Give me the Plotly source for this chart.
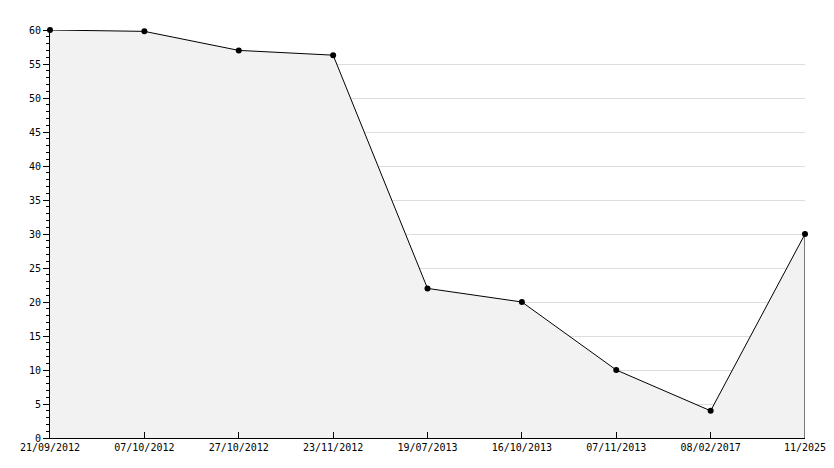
import plotly.graph_objects as go

dates = ["21/09/2012", "07/10/2012", "27/10/2012", "23/11/2012", "19/07/2013",
         "16/10/2013", "07/11/2013", "08/02/2017", "11/2025"]
values = [60, 59.8, 57, 56.3, 22, 20, 10, 4, 30]

fig = go.Figure()

fig.add_trace(go.Scatter(
    x=dates, y=values,
    mode="lines+markers",
    fill="tozeroy",
    fillcolor="#f2f2f2",
    line=dict(color="black", width=1),
    marker=dict(symbol="circle", size=6, color="black"),
    cliponaxis=False,
    showlegend=False,
    hoverinfo="x+y",
))

# closing edge of the filled area at the last point
fig.add_trace(go.Scatter(
    x=[dates[-1], dates[-1]], y=[0, values[-1]],
    mode="lines",
    line=dict(color="black", width=1),
    cliponaxis=False,
    showlegend=False,
    hoverinfo="skip",
))

# the page body has an 8px margin, so the plot box is shifted by that much
fig.update_layout(
    width=834, height=468,
    margin=dict(l=42, r=37, t=22, b=38, autoexpand=False),
    paper_bgcolor="white",
    plot_bgcolor="white",
    font=dict(family="DejaVu Sans Mono", size=10, color="black"),
    xaxis=dict(
        type="category",
        range=[0, len(dates) - 1],
        showgrid=False,
        showline=True, linecolor="black", linewidth=1,
        ticks="inside", ticklen=6, tickcolor="black",
        zeroline=False,
        automargin=False,
    ),
    yaxis=dict(
        range=[0, 60],
        dtick=5,
        showgrid=True, gridcolor="#dddddd", gridwidth=1,
        showline=True, linecolor="black", linewidth=1,
        ticks="outside", ticklen=6, tickcolor="black",
        minor=dict(dtick=1, ticks="outside", ticklen=3, tickcolor="black", showgrid=False),
        zeroline=False,
        automargin=False,
    ),
)

fig.write_html("out.html")
